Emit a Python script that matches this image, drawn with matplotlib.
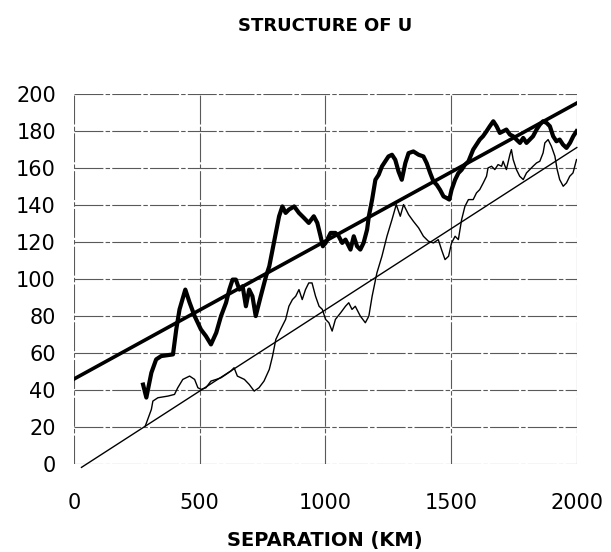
import matplotlib
matplotlib.use("Agg")
import matplotlib.pyplot as plt

# thick wiggly curve
thick_x = [275, 288, 308, 327, 347, 394, 407, 420, 443, 460, 480, 505,
           525, 545, 566, 585, 605, 618, 631, 644, 658, 671, 684, 697, 710, 723,
           743, 764, 777, 790, 803, 816, 829, 842, 855, 876, 895, 915, 934, 954,
           968, 981, 990, 1001, 1021, 1040, 1053, 1067, 1080, 1100, 1113,
           1126, 1139, 1152, 1166, 1173, 1186, 1199, 1212, 1225, 1238, 1251,
           1265, 1278, 1291, 1304, 1318, 1331, 1350, 1371, 1390, 1403, 1417,
           1430, 1443, 1456, 1470, 1483, 1493, 1502, 1516, 1529, 1542, 1555,
           1569, 1588, 1601, 1614, 1627, 1641, 1654, 1668, 1681, 1694, 1707,
           1720, 1734, 1747, 1760, 1774, 1787, 1800, 1813, 1826, 1840, 1853,
           1866, 1880, 1893, 1906, 1919, 1932, 1945, 1959, 1973, 1986, 1999]
thick_y = [43, 36, 49.4, 56.6, 58.4, 59.3, 72.8, 83.6, 94.3, 87.3, 80, 72.8,
           69.2, 64.7, 71, 80, 87.2, 94.3, 99.7, 99.7, 94.3, 96.1, 85.3, 94.3, 90.7, 80,
           90.7, 101.5, 106.9, 115.9, 124.9, 133.9, 139.2, 135.7, 137.5, 139.2, 135.7,
           133, 130.3, 133.9, 130.3, 123.1, 117.7, 119.5, 124.9, 124.9, 123.1, 119.5,
           121.3, 115.9, 123.1,
           117.7, 115.9, 119.5, 126.7, 133.9, 142.9, 153.6, 156.3, 160.8, 163.5, 166.2,
           167.1, 164.4, 158.1, 153.6, 162.6, 168, 168.9, 167.1, 166.2, 162.6, 157.2,
           152.7, 150.9, 148.2, 144.6, 143.7, 142.9, 148.2, 153.6, 157.2, 159, 161.7,
           163.5, 169.9, 172.6, 175.3, 177.1, 179.8, 182.5, 185.2, 182.5, 178.9, 179.8,
           180.7, 178, 177.1, 175.3, 173.5, 176.2, 173.5, 175.3, 177.1, 180.7, 183.4,
           185.2, 184.3, 182.5, 177.1, 174.4, 175.3, 172.6, 170.8, 173.5, 177.1, 179.8]

# thin wiggly curve
thin_x = [284, 308, 314, 334, 374, 400, 413, 433, 460, 480, 493, 506, 525,
          545, 566, 585, 605, 624, 637, 650, 678, 697, 717, 736, 756, 777, 790,
          803, 822, 842, 855, 869, 882, 895, 908, 921, 934, 947, 961, 975, 988,
          1001, 1014, 1027, 1040, 1061, 1080,
          1093, 1106, 1119, 1139, 1159, 1173, 1186, 1205, 1225, 1245, 1265, 1282,
          1298, 1311, 1331, 1350, 1371, 1390, 1410, 1430, 1449, 1462, 1476, 1490,
          1502, 1516, 1529, 1542, 1555, 1569,
          1588, 1601, 1614, 1628, 1641, 1647, 1661, 1674, 1687, 1701, 1707, 1720,
          1734, 1740, 1747, 1760, 1773, 1787, 1800, 1813, 1826, 1840, 1853, 1866,
          1873, 1886, 1899, 1913, 1922, 1932, 1946, 1959, 1972, 1985, 1999]
thin_y = [20.7, 29.6, 34.1, 35.9, 36.8, 37.7, 41.3, 45.8, 47.6, 45.8, 41.3, 40.4, 41.3,
          44.9, 45.8, 46.7, 48.5, 50.3, 52.1, 47.6, 45.8, 43.1, 39.5, 41.3, 44.9, 51.2, 58.4,
          67.4, 72.8, 78.2, 85.3, 88.9, 90.7, 94.3, 88.9, 94.3, 97.9, 97.9, 90.7, 85.3, 83.6,
          78.2, 76.4, 71.9, 78.2, 81.8, 85.3,
          87.2, 83.6, 85.3, 80, 76.4, 80, 90.7, 103.3, 112.3, 123.1, 132.1, 140.2,
          133.9, 140.2, 134.8, 131.2, 127.6, 123.1, 120.4, 119.5, 121.3, 115.9, 110.5, 112.3,
          119.5, 123.1, 121.3, 132.1, 139.2, 142.9,
          142.9, 146.5, 148.3, 151.9, 155.5, 160, 160.9, 159.1, 161.8, 160.9, 163.6, 159.1,
          167.2, 169.9, 164.5, 159.1, 155.5, 153.7, 157.3, 159.1, 160.9, 162.7, 163.6, 168.1,
          173.5, 175.3, 171.7, 166.3, 159.1, 153.7, 150.1, 151.9, 155.5, 157.3, 164.5]

# straight fit lines (end points)
fit_thick_x = [0, 2000]
fit_thick_y = [46, 195]
fit_thin_x = [30, 2000]
fit_thin_y = [-1.7, 171]

xticks = [0, 500, 1000, 1500, 2000]
yticks = list(range(0, 201, 20))

fig = plt.figure(figsize=(6.11, 5.52), dpi=100)
ax = fig.add_axes([0.121, 0.159, 0.823, 0.671])

ax.plot(thick_x, thick_y, color="black", lw=3.0, solid_joinstyle="round")
ax.plot(thin_x, thin_y, color="black", lw=1.0)
ax.plot(fit_thick_x, fit_thick_y, color="black", lw=2.6)
ax.plot(fit_thin_x, fit_thin_y, color="black", lw=1.0, clip_on=False)

ax.set_xlim(0, 2000)
ax.set_ylim(0, 200)
ax.set_xticks(xticks)
ax.set_yticks(yticks)
ax.tick_params(length=0, labelsize=15)
ax.tick_params(axis="x", pad=21)
ax.tick_params(axis="y", pad=13)
for s in ax.spines.values():
    s.set_visible(False)
ax.grid(True, color="0.35", lw=0.8, linestyle=(0, (26, 2, 4, 2)))
ax.set_axisbelow(True)

fig.text(0.532, 0.953, "STRUCTURE OF U", ha="center", va="center",
         fontsize=13, fontweight="bold")
fig.text(0.532, 0.02, "SEPARATION (KM)", ha="center", va="center",
         fontsize=14, fontweight="bold")

fig.savefig("out.png", dpi=100)
